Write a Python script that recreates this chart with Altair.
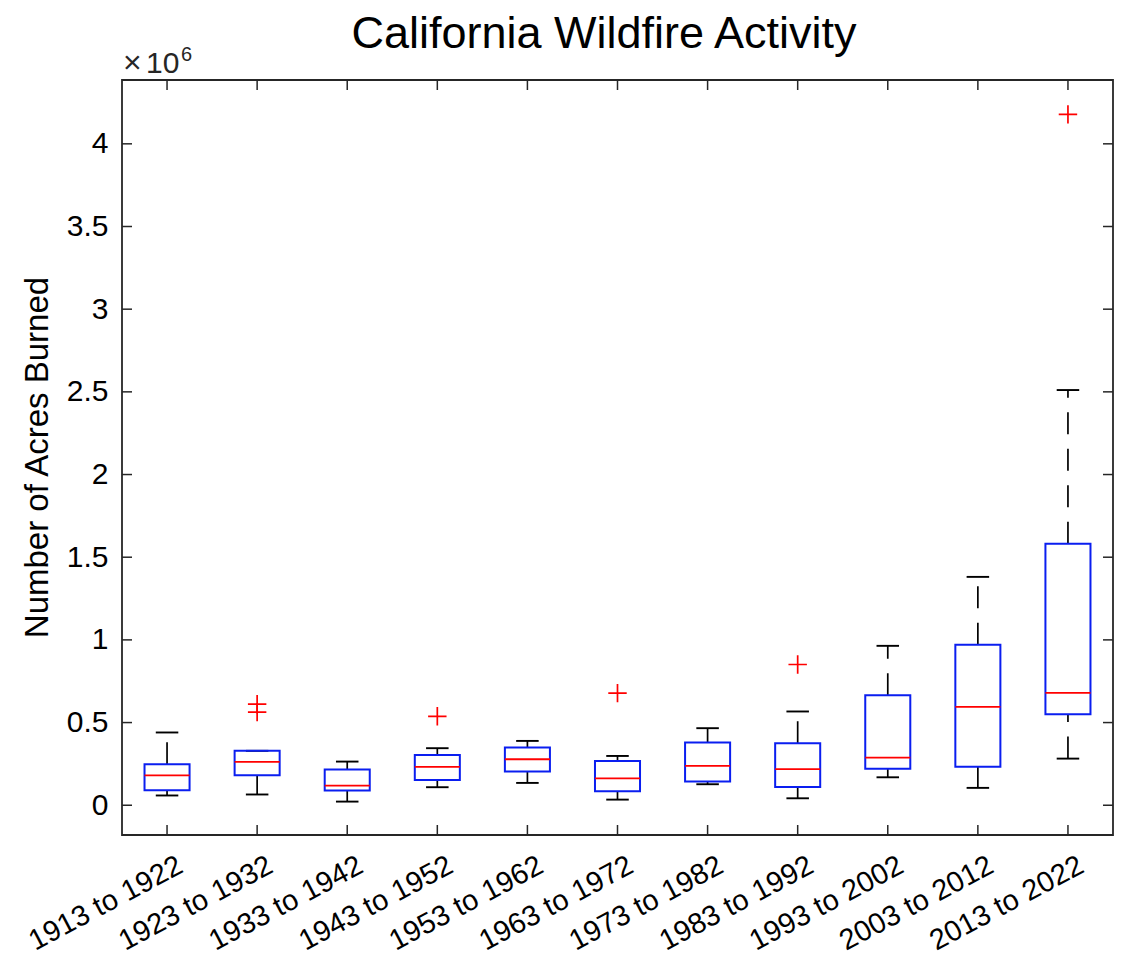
import json
import altair as alt
import pandas as pd

# ---- data (values in units of 10^6 acres) ----
periods = ["1913 to 1922", "1923 to 1932", "1933 to 1942", "1943 to 1952",
           "1953 to 1962", "1963 to 1972", "1973 to 1982", "1983 to 1992",
           "1993 to 2002", "2003 to 2012", "2013 to 2022"]
lower_whisker = [0.059, 0.065, 0.022, 0.109, 0.135, 0.034, 0.127, 0.042, 0.169, 0.105, 0.282]
q1 = [0.091, 0.181, 0.089, 0.153, 0.204, 0.084, 0.143, 0.111, 0.220, 0.232, 0.550]
median = [0.180, 0.262, 0.119, 0.232, 0.278, 0.163, 0.238, 0.218, 0.288, 0.595, 0.679]
q3 = [0.248, 0.329, 0.216, 0.304, 0.349, 0.268, 0.379, 0.375, 0.665, 0.970, 1.581]
upper_whisker = [0.440, 0.329, 0.264, 0.345, 0.389, 0.298, 0.466, 0.567, 0.964, 1.381, 2.511]
outlier_period = ["1923 to 1932", "1923 to 1932", "1943 to 1952", "1963 to 1972",
                  "1983 to 1992", "2013 to 2022"]
outlier_value = [0.611, 0.563, 0.538, 0.678, 0.851, 4.178]
y_ticks = [0, 0.5, 1, 1.5, 2, 2.5, 3, 3.5, 4]
y_domain = [-0.18, 4.386]
x_domain = [0.5, 11.5]

BOX_HALF = 0.25
CAP_HALF = 0.125

pos = list(range(1, len(periods) + 1))
boxes = pd.DataFrame({
    "period": periods, "pos": pos, "lo": lower_whisker, "q1": q1,
    "med": median, "q3": q3, "hi": upper_whisker,
})
boxes["left"] = boxes["pos"] - BOX_HALF
boxes["right"] = boxes["pos"] + BOX_HALF
boxes["cl"] = boxes["pos"] - CAP_HALF
boxes["cr"] = boxes["pos"] + CAP_HALF

out = pd.DataFrame({"period": outlier_period, "v": outlier_value})
out["pos"] = out["period"].map({p: i + 1 for i, p in enumerate(periods)})

W, H = 991, 755
FONT = "Liberation Sans"
AX = "#262626"

xs = alt.Scale(domain=x_domain, nice=False, zero=False)
ys = alt.Scale(domain=y_domain, nice=False, zero=False)

label_expr = json.dumps(periods) + "[datum.value - 1]"

XAX = alt.Axis(
    values=pos, labelExpr=label_expr, title=None, ticks=False, tickSize=0,
    domain=False, grid=False, labelAngle=332, labelAlign="right",
    labelBaseline="middle", labelFontSize=29, labelFont=FONT,
    labelColor="black", labelPadding=28, labelOffset=13, labelOverlap=False,
    labelFlush=False, labelBound=False)
YAX = alt.Axis(
    values=y_ticks, format="~g", ticks=False, tickSize=0, domain=False,
    grid=False, labelFontSize=30, labelFont=FONT, labelColor="black",
    labelPadding=14, title="Number of Acres Burned", titleFontSize=33,
    titleFont=FONT, titleFontWeight="normal", titleColor="black",
    titleAngle=270, titleAlign="center", titleBaseline="alphabetic",
    titleX=-75, titleY=377)


def X(f):
    return alt.X(f, scale=xs, axis=XAX, title=None)


def Y(f):
    return alt.Y(f, scale=ys, axis=YAX, title="Number of Acres Burned")


base = alt.Chart(boxes)

whisk_lo = base.mark_rule(color="black", strokeWidth=1.7, strokeDash=[22, 14.5]).encode(
    x=X("pos:Q"), y=Y("lo:Q"), y2="q1:Q")
whisk_hi = base.mark_rule(color="black", strokeWidth=1.7, strokeDash=[22, 14.5]).encode(
    x=X("pos:Q"), y=Y("q3:Q"), y2="hi:Q")
cap_lo = base.mark_rule(color="black", strokeWidth=1.9).encode(
    x=X("cl:Q"), x2="cr:Q", y=Y("lo:Q"))
cap_hi = base.mark_rule(color="black", strokeWidth=1.9).encode(
    x=X("cl:Q"), x2="cr:Q", y=Y("hi:Q"))
box = base.mark_rect(fill="white", fillOpacity=0, stroke="#0a1ef0", strokeWidth=2).encode(
    x=X("left:Q"), x2="right:Q", y=Y("q1:Q"), y2="q3:Q")
med = base.mark_rule(color="#ff0000", strokeWidth=1.8).encode(
    x=X("left:Q"), x2="right:Q", y=Y("med:Q"))
outl = alt.Chart(out).mark_point(
    shape="M-1,0L1,0M0,-1L0,1", size=340, color="#ff0000", filled=False,
    strokeWidth=1.7, opacity=1).encode(x=X("pos:Q"), y=Y("v:Q"))

# inward ticks on all four sides
xt = alt.Chart(pd.DataFrame({"pos": pos}))
yt = alt.Chart(pd.DataFrame({"v": y_ticks}))
tick_b = xt.mark_rule(color=AX, strokeWidth=1.5).encode(
    x=X("pos:Q"), y=alt.value(H), y2=alt.value(H - 10))
tick_t = xt.mark_rule(color=AX, strokeWidth=1.5).encode(
    x=X("pos:Q"), y=alt.value(0), y2=alt.value(10))
tick_l = yt.mark_rule(color=AX, strokeWidth=1.5).encode(
    y=Y("v:Q"), x=alt.value(0), x2=alt.value(10))
tick_r = yt.mark_rule(color=AX, strokeWidth=1.5).encode(
    y=Y("v:Q"), x=alt.value(W), x2=alt.value(W - 10))


def txt(s, size, x, y, color="black", align="left"):
    return alt.Chart(pd.DataFrame({"t": [s]})).mark_text(
        font=FONT, fontSize=size, color=color, align=align,
        baseline="alphabetic").encode(text="t:N", x=alt.value(x), y=alt.value(y))


title = txt("California Wildfire Activity", 45, 604 - 122, 48 - 80, align="center")
mult_x = txt("×", 32, 123 - 122, 73 - 80, color=AX)
mult_10 = txt("10", 30, 146 - 122, 73 - 80, color=AX)
expo = txt("6", 20, 181 - 122, 61 - 80, color=AX)

chart = alt.layer(
    whisk_lo, whisk_hi, cap_lo, cap_hi, box, med, outl,
    tick_b, tick_t, tick_l, tick_r, title, mult_x, mult_10, expo,
).properties(
    width=W, height=H,
    autosize=alt.AutoSizeParams(type="none"),
    padding={"left": 114, "top": 72, "right": 9, "bottom": 123},
    background="white",
).configure_view(stroke=AX, strokeWidth=1.8)

chart.save("out.html", embed_options={"renderer": "svg", "actions": False})
